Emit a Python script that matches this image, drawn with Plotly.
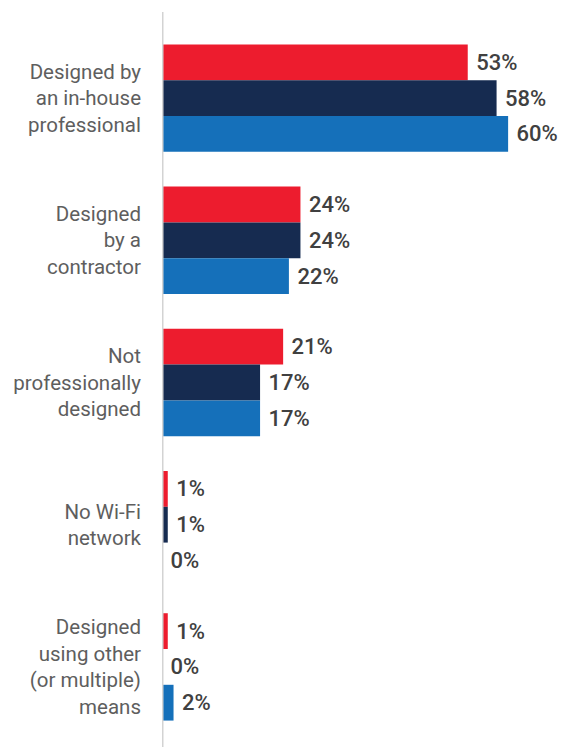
import plotly.graph_objects as go

categories = [
    "Designed by<br>an in-house<br>professional",
    "Designed<br>by a<br>contractor",
    "Not<br>professionally<br>designed",
    "No Wi-Fi<br>network",
    "Designed<br>using other<br>(or multiple)<br>means",
]
series_names = ["Series A", "Series B", "Series C"]
red_values = [53, 24, 21, 1, 1]
navy_values = [58, 24, 17, 1, 0]
blue_values = [60, 22, 17, 0, 2]

colors = ["#ED1C2E", "#162B50", "#1570BA"]
FONT = "Roboto, Liberation Sans, sans-serif"

fig = go.Figure()
for name, vals, col in zip(series_names, [red_values, navy_values, blue_values], colors):
    fig.add_trace(go.Bar(
        y=categories,
        x=vals,
        name=name,
        orientation="h",
        marker=dict(color=col, line=dict(width=0)),
        text=[f"\u00a0{v}%" for v in vals],
        textposition="outside",
        textfont=dict(family=FONT, size=22, color="#404040", weight=500),
        constraintext="none",
        cliponaxis=False,
        showlegend=False,
    ))

# light vertical axis line
fig.add_shape(type="line", xref="x", yref="paper", x0=0, x1=0, y0=-0.013, y1=1.021,
              line=dict(color="#d3d3d3", width=3), layer="above")

# page body adds an 8px offset, so the figure is sized to fit the window
fig.update_layout(
    width=563, height=739,
    barmode="group",
    bargap=0.245,
    bargroupgap=0,
    margin=dict(l=154, r=0, t=19, b=9, autoexpand=False),
    plot_bgcolor="white",
    paper_bgcolor="white",
    font=dict(family=FONT),
)
fig.update_xaxes(range=[0, 70.9], showgrid=False, zeroline=False, showticklabels=False,
                 showline=False, automargin=False)
fig.update_yaxes(autorange="reversed", showgrid=False, zeroline=False, showline=False, ticks="",
                 ticklabelstandoff=20, automargin=False,
                 tickfont=dict(family=FONT, size=20.5, color="#5e5e5e"))

fig.write_html("out.html")
